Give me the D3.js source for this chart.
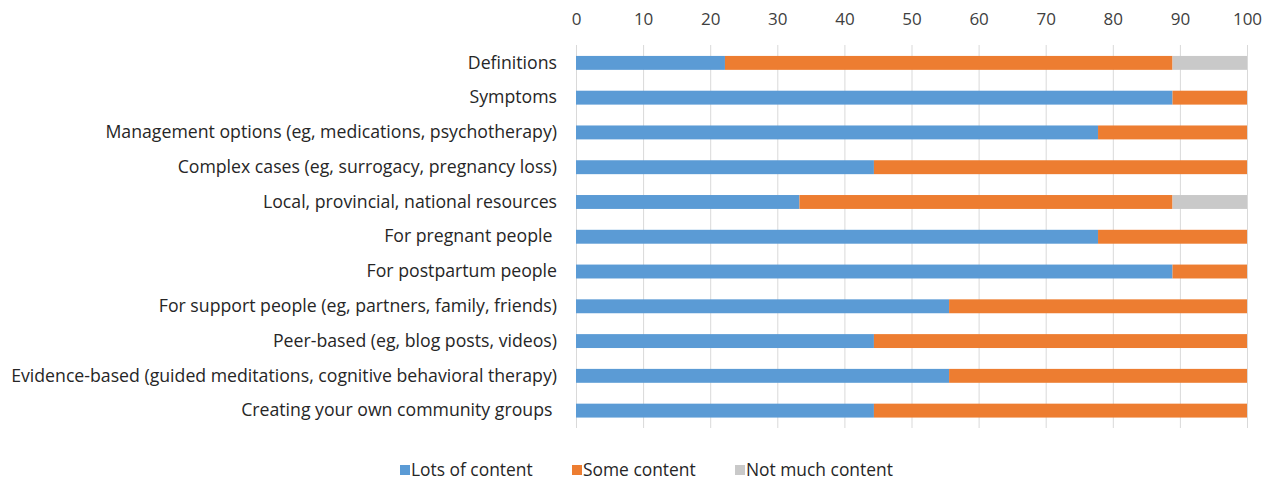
<!DOCTYPE html>
<html><head><meta charset="utf-8">
<script src="https://cdn.jsdelivr.net/npm/d3@7"></script>
<style>body{margin:0;background:#fff}svg text{font-family:"Open Sans",sans-serif;fill:#262626}</style>
</head><body><svg id="c" width="1272" height="482"></svg>
<script>
const categories = ["Definitions","Symptoms","Management options (eg, medications, psychotherapy)","Complex cases (eg, surrogacy, pregnancy loss)","Local, provincial, national resources","For pregnant people ","For postpartum people","For support people (eg, partners, family, friends)","Peer-based (eg, blog posts, videos)","Evidence-based (guided meditations, cognitive behavioral therapy)","Creating your own community groups "];
const lots = [22.2,88.9,77.8,44.4,33.3,77.8,88.9,55.6,44.4,55.6,44.4];
const some = [66.7,11.1,22.2,55.6,55.6,22.2,11.1,44.4,55.6,44.4,55.6];
const notMuch = [11.1,0,0,0,11.1,0,0,0,0,0,0];
const seriesNames = ["Lots of content","Some content","Not much content"];
const colors = ["#5B9BD5","#ED7D31","#C9C9C9"];
const xTicks = [0,10,20,30,40,50,60,70,80,90,100];

const svg = d3.select("#c");
const x = d3.scaleLinear().domain([0,100]).range([576,1247]);
const y = d3.scaleBand().domain(categories).range([45.5,428]).paddingInner(0.6).paddingOuter(0.3);

svg.append("g").selectAll("line").data(xTicks).join("line")
  .attr("x1",d=>x(d)+0.5).attr("x2",d=>x(d)+0.5).attr("y1",45).attr("y2",428)
  .attr("stroke","#d9d9d9").attr("stroke-width",1);

const xAxis = d3.axisTop(x).tickValues(xTicks).tickSize(0).tickPadding(0);
const ga = svg.append("g").attr("transform","translate(0,25)").call(xAxis);
ga.select(".domain").remove();
ga.selectAll("text").attr("font-size",17).attr("font-family","Open Sans").style("fill","#404040");

const rows = categories.map((c,i)=>({c, v:[lots[i],some[i],notMuch[i]]}));
const stack = d3.stack().keys([0,1,2]).value((d,k)=>d.v[k]);
const layers = stack(rows);
svg.append("g").selectAll("g").data(layers).join("g").attr("fill",(d,i)=>colors[i])
  .selectAll("rect").data(d=>d).join("rect")
  .attr("x",d=>x(d[0])).attr("width",d=>Math.max(0,x(d[1])-x(d[0])))
  .attr("y",d=>y(d.data.c)).attr("height",y.bandwidth());

const yAxis = d3.axisLeft(y).tickSize(0).tickPadding(0);
const gy = svg.append("g").attr("transform","translate(557,0)").call(yAxis);
gy.select(".domain").remove();
gy.selectAll("text").attr("font-size",17.7).attr("font-family","Open Sans").style("white-space","pre").style("fill","#262626");

const legX = [400,572,735];
const lg = svg.append("g").selectAll("g").data(seriesNames).join("g")
  .attr("transform",(d,i)=>`translate(${legX[i]},470)`);
lg.append("rect").attr("x",0).attr("y",-5).attr("width",10).attr("height",10).attr("fill",(d,i)=>colors[i]);
lg.append("text").attr("x",11).attr("y",0).attr("dy","0.35em").attr("font-size",17.4).text(d=>d);
</script></body></html>
